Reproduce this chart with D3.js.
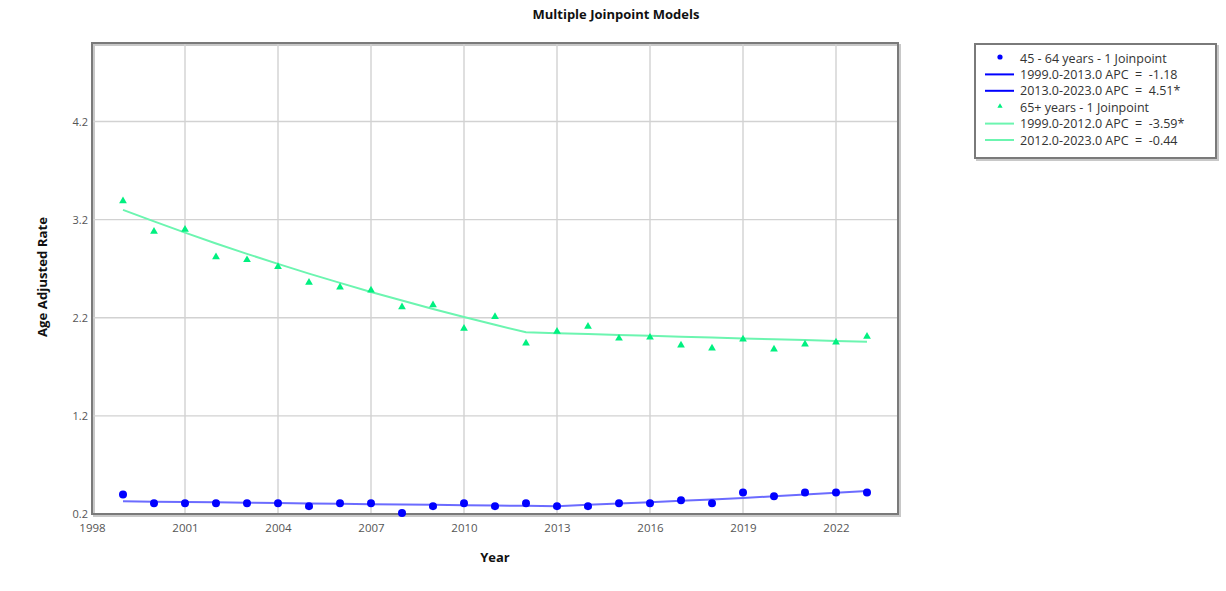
<!DOCTYPE html>
<html>
<head>
<meta charset="utf-8">
<script src="https://cdn.jsdelivr.net/npm/d3@7"></script>
<style>
  body { margin: 0; background: #fff; }
  text { font-family: "Open Sans", "DejaVu Sans", sans-serif; }
</style>
</head>
<body>
<div id="chart"></div>
<script>
// chart data
const YEARS = d3.range(1999, 2024);
const X_TICKS = [1998, 2001, 2004, 2007, 2010, 2013, 2016, 2019, 2022];
const Y_TICKS = [0.2, 1.2, 2.2, 3.2, 4.2];

// 45 - 64 years, observed and fitted
const AGE45_OBS = [0.40, 0.31, 0.31, 0.31, 0.31, 0.31, 0.28, 0.31, 0.31, 0.21,
                   0.28, 0.31, 0.28, 0.31, 0.28, 0.28, 0.31, 0.31, 0.34, 0.31,
                   0.42, 0.38, 0.42, 0.42, 0.42];
const AGE45_FIT = [0.330, 0.326, 0.322, 0.319, 0.315, 0.311, 0.308, 0.304, 0.300, 0.297,
                   0.293, 0.290, 0.286, 0.283, 0.280, 0.293, 0.306, 0.319, 0.334, 0.349,
                   0.364, 0.381, 0.398, 0.416, 0.435];

// 65+ years, observed and fitted
const AGE65_OBS = [3.39, 3.08, 3.10, 2.82, 2.79, 2.72, 2.56, 2.51, 2.48, 2.31,
                   2.33, 2.09, 2.21, 1.94, 2.06, 2.11, 1.99, 2.00, 1.92, 1.89,
                   1.98, 1.88, 1.93, 1.95, 2.01];
const AGE65_FIT = [3.300, 3.182, 3.067, 2.957, 2.851, 2.749, 2.650, 2.555, 2.463, 2.375,
                   2.290, 2.207, 2.128, 2.052, 2.043, 2.034, 2.025, 2.016, 2.007, 1.998,
                   1.989, 1.981, 1.972, 1.963, 1.955];

const LEGEND_LABELS = ["45 - 64 years - 1 Joinpoint",
                       "1999.0-2013.0 APC  =  -1.18",
                       "2013.0-2023.0 APC  =  4.51*",
                       "65+ years - 1 Joinpoint",
                       "1999.0-2012.0 APC  =  -3.59*",
                       "2012.0-2023.0 APC  =  -0.44"];

const FRAME_WIDTH = 1226;
const FRAME_HEIGHT = 591;
const MARGINS = {left: 92, right: 328, top: 43, bottom: 77};
const VIS_WIDTH = FRAME_WIDTH - MARGINS.left - MARGINS.right;
const VIS_HEIGHT = FRAME_HEIGHT - MARGINS.top - MARGINS.bottom;

const BLUE = "#0000ff";
const BLUE_LINE = "#6b6bff";
const GREEN = "#00f080";
const GREEN_LINE = "#6cf5b0";

const SVG = d3.select("#chart")
              .append("svg")
                .attr("width", FRAME_WIDTH)
                .attr("height", FRAME_HEIGHT);

const X_SCALE = d3.scaleLinear().domain([1998, 2024]).range([0, VIS_WIDTH]);
const Y_SCALE = d3.scaleLinear().domain([0.2, 5.0]).range([VIS_HEIGHT, 0]);

// title
SVG.append("text")
   .attr("x", 616).attr("y", 19)
   .attr("text-anchor", "middle")
   .attr("font-size", "13px").attr("font-weight", "bold")
   .attr("fill", "#111")
   .text("Multiple Joinpoint Models");

const PLOT = SVG.append("g")
                .attr("transform", "translate(" + MARGINS.left + "," + MARGINS.top + ")");

// frame shadow
PLOT.append("rect")
    .attr("x", 2).attr("y", 2)
    .attr("width", VIS_WIDTH).attr("height", VIS_HEIGHT)
    .attr("fill", "none").attr("stroke", "#c8c8c8").attr("stroke-width", 2);

// gridlines
PLOT.append("g")
    .selectAll("line")
    .data(X_TICKS.slice(1))
    .enter()
    .append("line")
      .attr("x1", (d) => X_SCALE(d)).attr("x2", (d) => X_SCALE(d))
      .attr("y1", 0).attr("y2", VIS_HEIGHT)
      .attr("stroke", "#d2d2d2").attr("stroke-width", 1.4);

PLOT.append("g")
    .selectAll("line")
    .data(Y_TICKS.slice(1))
    .enter()
    .append("line")
      .attr("x1", 0).attr("x2", VIS_WIDTH)
      .attr("y1", (d) => Y_SCALE(d)).attr("y2", (d) => Y_SCALE(d))
      .attr("stroke", "#d2d2d2").attr("stroke-width", 1.4);

// axes
const X_AXIS = PLOT.append("g")
    .attr("transform", "translate(0," + VIS_HEIGHT + ")")
    .call(d3.axisBottom(X_SCALE).tickValues(X_TICKS).tickFormat(d3.format("d")).tickSize(0).tickPadding(10));
X_AXIS.select(".domain").remove();
X_AXIS.selectAll("text").attr("font-size", "11.5px").attr("fill", "#555")
      .attr("font-family", "'Open Sans', sans-serif");

const Y_AXIS = PLOT.append("g")
    .call(d3.axisLeft(Y_SCALE).tickValues(Y_TICKS).tickFormat(d3.format(".1f")).tickSize(0).tickPadding(4));
Y_AXIS.select(".domain").remove();
Y_AXIS.selectAll("text").attr("font-size", "11px").attr("fill", "#555")
      .attr("font-family", "'Open Sans', sans-serif");

// frame
PLOT.append("rect")
    .attr("width", VIS_WIDTH).attr("height", VIS_HEIGHT)
    .attr("fill", "none").attr("stroke", "#7a7a7a").attr("stroke-width", 2);

// axis titles
SVG.append("text")
   .attr("x", 495).attr("y", 562)
   .attr("text-anchor", "middle")
   .attr("font-size", "13px").attr("font-weight", "bold").attr("fill", "#111")
   .text("Year");

SVG.append("text")
   .attr("transform", "translate(47,277) rotate(-90)")
   .attr("text-anchor", "middle")
   .attr("font-size", "12.5px").attr("font-weight", "bold").attr("fill", "#111")
   .attr("textLength", 120).attr("lengthAdjust", "spacingAndGlyphs")
   .text("Age Adjusted Rate");

// fitted lines
const LINE = d3.line()
               .x((d, i) => X_SCALE(YEARS[i]))
               .y((d) => Y_SCALE(d));

PLOT.append("path").datum(AGE65_FIT)
    .attr("d", LINE).attr("fill", "none")
    .attr("stroke", GREEN_LINE).attr("stroke-width", 2);

PLOT.append("path").datum(AGE45_FIT)
    .attr("d", LINE).attr("fill", "none")
    .attr("stroke", BLUE_LINE).attr("stroke-width", 2);

// observed points
PLOT.selectAll(".tri")
    .data(AGE65_OBS)
    .enter()
    .append("path")
      .attr("class", "tri")
      .attr("d", d3.symbol().type(d3.symbolTriangle).size(26))
      .attr("transform", (d, i) => "translate(" + X_SCALE(YEARS[i]) + "," + Y_SCALE(d) + ")")
      .attr("fill", GREEN);

PLOT.selectAll(".dot")
    .data(AGE45_OBS)
    .enter()
    .append("circle")
      .attr("class", "dot")
      .attr("cx", (d, i) => X_SCALE(YEARS[i]))
      .attr("cy", (d) => Y_SCALE(d))
      .attr("r", 4)
      .attr("fill", BLUE);

// legend
const LEG = SVG.append("g").attr("transform", "translate(975,44)");
LEG.append("rect")
   .attr("x", 2).attr("y", 2).attr("width", 241).attr("height", 114)
   .attr("fill", "none").attr("stroke", "#c8c8c8").attr("stroke-width", 2);
LEG.append("rect")
   .attr("width", 241).attr("height", 114)
   .attr("fill", "#fff").attr("stroke", "#7a7a7a").attr("stroke-width", 2);

const LEG_COLORS = [BLUE, BLUE, BLUE, GREEN, GREEN, GREEN];
const LEG_KIND = ["dot", "line", "line", "tri", "line", "line"];

LEGEND_LABELS.forEach((label, i) => {
  const y = 14 + i * 16.4;
  if (LEG_KIND[i] === "dot") {
    LEG.append("circle").attr("cx", 25).attr("cy", y - 1).attr("r", 2.6).attr("fill", LEG_COLORS[i]);
  } else if (LEG_KIND[i] === "tri") {
    LEG.append("path")
       .attr("d", d3.symbol().type(d3.symbolTriangle).size(12))
       .attr("transform", "translate(25," + (y - 1) + ")")
       .attr("fill", LEG_COLORS[i]);
  } else {
    LEG.append("line")
       .attr("x1", 10).attr("x2", 39).attr("y1", y).attr("y2", y)
       .attr("stroke", i < 3 ? BLUE : GREEN_LINE).attr("stroke-width", 2);
  }
  LEG.append("text")
     .attr("x", 45).attr("y", y + 4.5)
     .attr("font-size", "12.5px").attr("fill", "#333")
     .attr("xml:space", "preserve")
     .text(label);
});
</script>
</body>
</html>
